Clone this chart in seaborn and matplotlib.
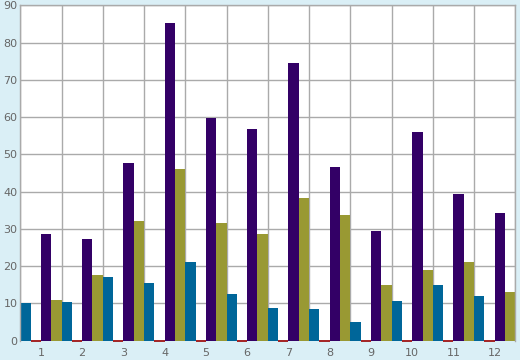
import pandas as pd
import seaborn as sns
import matplotlib.pyplot as plt
from matplotlib.ticker import MultipleLocator, FixedLocator

# Values
months = [str(i) for i in range(1, 13)]
blue = [10.1, 10.4, 17.2, 15.5, 21.2, 12.5, 8.7, 8.4, 5.0, 10.6, 15.0, 12.0]
red = [0] * 12
purple = [28.5, 27.4, 47.7, 85.2, 59.8, 56.9, 74.4, 46.6, 29.5, 56.0, 39.3, 34.2]
olive = [10.9, 17.7, 32.2, 46.0, 31.7, 28.7, 38.2, 33.8, 15.0, 19.0, 21.2, 13.2]

series_names = ["A", "B", "C", "D"]
series_colors = ["#006699", "#990000", "#330066", "#999933"]

df = pd.DataFrame({
    "month": months * 4,
    "value": blue + red + purple + olive,
    "series": [s for s in series_names for _ in months],
})

sns.set_style("white")
fig = plt.figure(figsize=(5.2, 3.6), dpi=100, facecolor="#daeff6")
ax = fig.add_axes([0.039, 0.0536, 0.952, 0.9317])

sns.barplot(data=df, x="month", y="value", hue="series", order=months,
            hue_order=series_names, palette=series_colors, width=1.0,
            saturation=1, dodge=True, legend=False, linewidth=0, ax=ax)

# zero-valued red series shows as a thin line on the baseline
for p in ax.containers[1]:
    p.set_edgecolor("#990000")
    p.set_linewidth(1.2)
    p.set_clip_on(False)
    p.set_zorder(4)

grid_c = "#aaaaaa"
ax.set_xlim(-0.5, 11.5)
ax.set_ylim(0, 90)
ax.yaxis.set_major_locator(MultipleLocator(10))
ax.xaxis.set_minor_locator(FixedLocator([i + 0.5 for i in range(-1, 12)]))
ax.grid(axis="y", which="major", color=grid_c, linewidth=1)
ax.grid(axis="x", which="minor", color=grid_c, linewidth=1)
ax.set_axisbelow(True)

ax.tick_params(axis="x", which="major", length=0, pad=5, labelsize=8, labelcolor="#666666")
ax.tick_params(axis="x", which="minor", length=5, width=1, color="#888888", direction="out")
ax.tick_params(axis="y", which="major", length=0, pad=2, labelsize=8, labelcolor="#666666")
ax.set_xlabel("")
ax.set_ylabel("")
for s in ax.spines.values():
    s.set_color(grid_c)
    s.set_linewidth(1)
ax.spines["bottom"].set_visible(False)

fig.savefig("out.png", dpi=100, facecolor=fig.get_facecolor())
